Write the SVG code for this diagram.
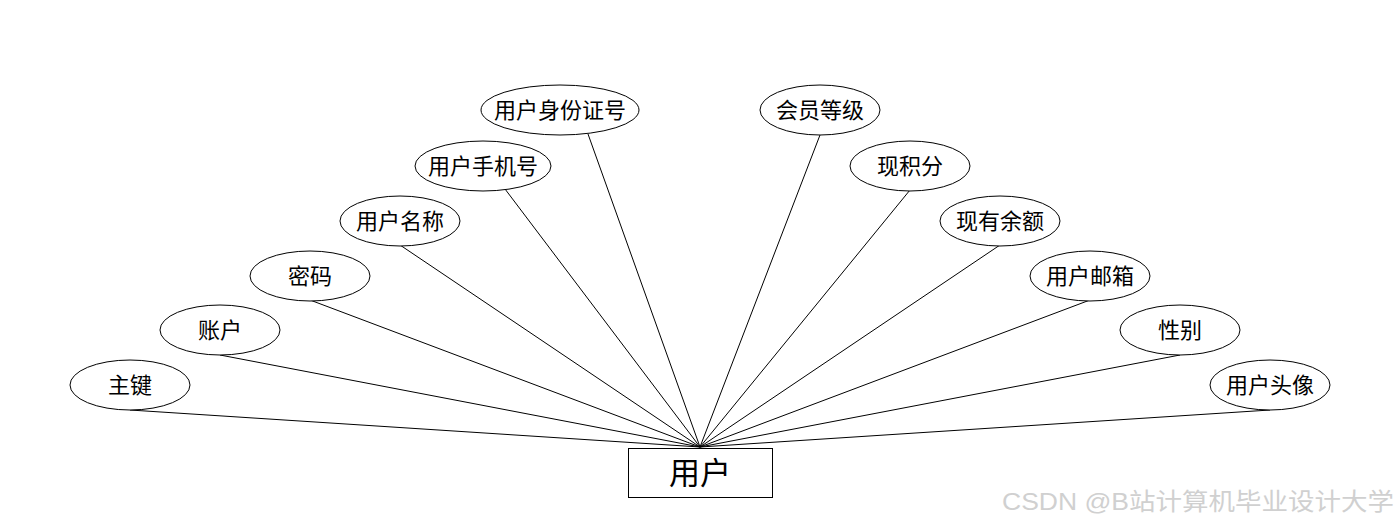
<svg xmlns="http://www.w3.org/2000/svg" width="1400" height="528" viewBox="0 0 1400 528">
<style>
.e{fill:#fff;stroke:#000;stroke-width:1}
.t{font-family:"Noto Sans CJK SC","Liberation Sans",sans-serif;font-size:22px;fill:#000;text-anchor:middle;dominant-baseline:central}
.c line{stroke:#000;stroke-width:1}
</style>
<rect width="1400" height="528" fill="#fff"/>
<g id="connectors" class="c">
<line x1="130" y1="410" x2="700" y2="447"/>
<line x1="220" y1="355" x2="700" y2="447"/>
<line x1="310" y1="300" x2="700" y2="447"/>
<line x1="400" y1="245" x2="700" y2="447"/>
<line x1="505" y1="189" x2="700" y2="447"/>
<line x1="588" y1="134" x2="700" y2="447"/>
<line x1="820" y1="135" x2="700" y2="447"/>
<line x1="910" y1="190" x2="700" y2="447"/>
<line x1="1000" y1="245" x2="700" y2="447"/>
<line x1="1090" y1="300" x2="700" y2="447"/>
<line x1="1180" y1="355" x2="700" y2="447"/>
<line x1="1270" y1="410" x2="700" y2="447"/>
</g>
<g id="user">
<rect x="628.500" y="448.500" width="144" height="49" fill="#fff" stroke="#000"/>
<text class="t" x="700" y="470" style="font-size:31px">用户</text>
</g>
<g id="n-zhujian"><ellipse class="e" cx="130" cy="385" rx="60" ry="25"/><text class="t" x="130" y="383">主键</text></g>
<g id="n-zhanghu"><ellipse class="e" cx="220" cy="330" rx="60" ry="25"/><text class="t" x="220" y="328">账户</text></g>
<g id="n-mima"><ellipse class="e" cx="310" cy="276" rx="60" ry="25"/><text class="t" x="310" y="274">密码</text></g>
<g id="n-mingcheng"><ellipse class="e" cx="400" cy="221" rx="60" ry="25"/><text class="t" x="400" y="219">用户名称</text></g>
<g id="n-shouji"><ellipse class="e" cx="483" cy="166" rx="68" ry="25"/><text class="t" x="483" y="164">用户手机号</text></g>
<g id="n-shenfen"><ellipse class="e" cx="560" cy="110" rx="79" ry="25"/><text class="t" x="560" y="108">用户身份证号</text></g>
<g id="n-huiyuan"><ellipse class="e" cx="820" cy="110" rx="60" ry="25"/><text class="t" x="820" y="108">会员等级</text></g>
<g id="n-jifen"><ellipse class="e" cx="910" cy="166" rx="60" ry="25"/><text class="t" x="910" y="164">现积分</text></g>
<g id="n-yue"><ellipse class="e" cx="1000" cy="221" rx="60" ry="25"/><text class="t" x="1000" y="219">现有余额</text></g>
<g id="n-youxiang"><ellipse class="e" cx="1090" cy="276" rx="60" ry="25"/><text class="t" x="1090" y="274">用户邮箱</text></g>
<g id="n-xingbie"><ellipse class="e" cx="1180" cy="330" rx="60" ry="25"/><text class="t" x="1180" y="328">性别</text></g>
<g id="n-touxiang"><ellipse class="e" cx="1270" cy="385" rx="60" ry="25"/><text class="t" x="1270" y="383">用户头像</text></g>
<text x="1002" y="510" style="font-family:'Liberation Sans','Noto Sans CJK SC',sans-serif;font-size:24px;fill:#d0d0d0" textLength="392" lengthAdjust="spacingAndGlyphs">CSDN @B站计算机毕业设计大学</text>
</svg>
